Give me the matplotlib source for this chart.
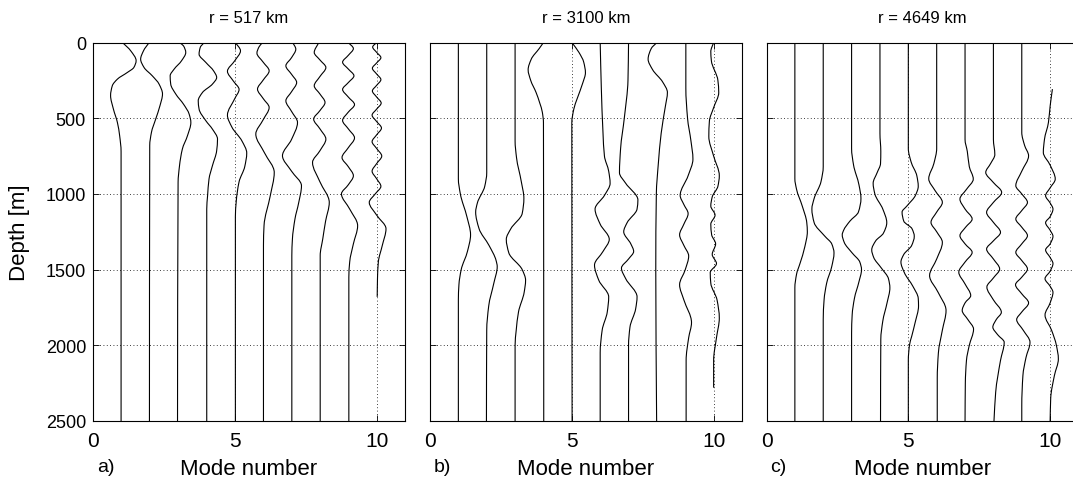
import matplotlib
matplotlib.use('Agg')
import matplotlib.pyplot as plt
from matplotlib.path import Path
from matplotlib.patches import PathPatch

plt.rcParams['font.family'] = ['Liberation Sans', 'DejaVu Sans']

titles = ['r = 517 km', 'r = 3100 km', 'r = 4649 km']
panel_tags = ['a)', 'b)', 'c)']
depth_ticks = [0, 500, 1000, 1500, 2000, 2500]
mode_ticks = [0, 5, 10]

# each curve: (depth [m], mode number + mode amplitude)
# --- panel a, r = 517 km ---
a1 = [(0, 1.04), (55, 1.33), (120, 1.52), (165, 1.44), (198, 1.21), (242, 0.86), (286, 0.68), (350, 0.62),
      (440, 0.72), (528, 0.86), (616, 0.94), (720, 0.99), (2500, 0.99)]
a2 = [(0, 1.98), (55, 1.78), (110, 1.68), (165, 1.80), (220, 2.09), (275, 2.33), (340, 2.45), (418, 2.36),
      (506, 2.21), (594, 2.06), (680, 2.0), (2500, 1.99)]
a3 = [(0, 3.04), (22, 3.19), (66, 3.27), (121, 3.12), (176, 2.86), (220, 2.72), (275, 2.74), (341, 2.92),
      (407, 3.19), (473, 3.39), (528, 3.45), (616, 3.33), (704, 3.15), (814, 3.05), (924, 3.0), (2500, 2.98)]
a4 = [(0, 3.92), (33, 3.78), (77, 3.74), (132, 3.98), (187, 4.25), (231, 4.36), (275, 4.21), (330, 3.86),
      (385, 3.71), (440, 3.74), (517, 3.98), (572, 4.21), (638, 4.39), (715, 4.36), (814, 4.21), (902, 4.09),
      (1012, 4.04), (1100, 4.01), (2500, 4.01)]
a5 = [(0, 5.02), (55, 5.2), (120, 5.0), (190, 4.74), (255, 4.95), (310, 5.15), (370, 5.0), (480, 4.74),
      (560, 4.9), (650, 5.25), (730, 5.42), (820, 5.35), (920, 5.15), (1050, 5.05), (1150, 5.02), (2500, 5.02)]
a6 = [(0, 5.98), (30, 5.85), (70, 5.78), (130, 6.0), (187, 6.21), (248, 6.0), (308, 5.8), (370, 6.0),
      (429, 6.21), (510, 6.0), (605, 5.74), (730, 6.05), (858, 6.39), (1012, 6.25), (1210, 6.03), (1340, 6.01),
      (2500, 6.01)]
a7 = [(0, 7.04), (44, 7.15), (100, 7.0), (154, 6.8), (210, 7.0), (264, 7.18), (325, 7.0), (385, 6.8),
      (455, 7.0), (528, 7.21), (640, 7.0), (748, 6.68), (850, 7.0), (946, 7.35), (1060, 7.25), (1166, 7.12),
      (1300, 7.03), (1408, 7.01), (2500, 7.01)]
a8 = [(0, 7.96), (66, 7.80), (115, 8.0), (165, 8.21), (225, 8.0), (286, 7.80), (340, 8.0), (396, 8.18),
      (450, 8.0), (506, 7.78), (570, 8.0), (638, 8.21), (715, 8.0), (792, 7.74), (920, 8.0), (1056, 8.33),
      (1180, 8.2), (1298, 8.1), (1408, 8.01), (2500, 8.01)]
a9 = [(0, 9.0), (40, 9.18), (85, 9.0), (130, 8.8), (175, 9.0), (220, 9.2), (265, 9.0), (310, 8.8), (360, 9.0),
      (410, 9.22), (460, 9.0), (515, 8.8), (570, 9.0), (630, 9.22), (695, 9.0), (760, 8.78), (820, 9.0),
      (880, 9.18), (940, 9.0), (1000, 8.76), (1100, 9.05), (1210, 9.33), (1330, 9.18), (1450, 9.05),
      (1550, 9.02), (2500, 9.02)]
a10 = [(0, 10.0), (30, 9.86), (65, 10.0), (100, 10.15), (135, 10.0), (170, 9.85), (208, 10.0), (245, 10.15),
       (283, 10.0), (320, 9.85), (360, 10.0), (400, 10.16), (440, 10.0), (480, 9.84), (522, 10.0), (565, 10.17),
       (610, 10.0), (655, 9.84), (700, 10.0), (750, 10.18), (800, 10.0), (850, 9.84), (900, 10.0), (950, 10.15),
       (1000, 9.95), (1056, 9.74), (1140, 10.0), (1230, 10.33), (1340, 10.2), (1450, 10.06), (1560, 10.03),
       (1680, 10.02)]

# --- panel b, r = 3100 km ---
b1 = [(0, 1.0), (900, 1.0), (1000, 1.07), (1150, 1.30), (1270, 1.43), (1380, 1.32), (1500, 1.1), (1600, 1.02),
      (1700, 1.0), (2500, 1.0)]
b2 = [(0, 2.0), (860, 2.0), (950, 1.93), (1060, 1.67), (1120, 1.61), (1230, 1.73), (1340, 2.08), (1440, 2.33),
      (1480, 2.37), (1590, 2.25), (1740, 2.07), (1900, 2.0), (2500, 1.99)]
b3 = [(0, 3.0), (650, 3.0), (760, 3.05), (920, 3.22), (1030, 3.31), (1130, 3.25), (1230, 2.85), (1300, 2.69),
      (1390, 2.78), (1500, 3.25), (1570, 3.37), (1650, 3.32), (1780, 3.12), (1900, 3.04), (2000, 3.0), (2500, 3.0)]
b4 = [(0, 4.0), (40, 3.85), (110, 3.57), (180, 3.46), (250, 3.55), (330, 3.74), (400, 3.87), (460, 3.96),
      (530, 4.0), (2500, 4.01)]
b5 = [(0, 5.0), (65, 5.25), (130, 5.42), (200, 5.48), (265, 5.39), (370, 5.19), (440, 5.07), (530, 5.0),
      (2500, 5.01)]
b6 = [(0, 6.0), (300, 6.04), (600, 6.1), (750, 6.15), (850, 6.3), (930, 6.35), (1010, 6.15), (1100, 5.82),
      (1200, 6.0), (1300, 6.32), (1380, 6.1), (1470, 5.8), (1570, 5.95), (1680, 6.3), (1780, 6.25), (1900, 6.07),
      (2050, 6.0), (2500, 6.0)]
b7 = [(0, 7.0), (250, 6.98), (500, 6.85), (700, 6.72), (860, 6.68), (930, 6.9), (1040, 7.33), (1100, 7.3),
      (1190, 6.95), (1250, 6.83), (1330, 7.08), (1380, 7.18), (1430, 7.0), (1490, 6.75), (1560, 6.9), (1680, 7.3),
      (1760, 7.25), (1880, 7.05), (2000, 7.0), (2500, 7.0)]
b8 = [(0, 8.0), (40, 7.8), (110, 7.69), (180, 7.85), (260, 8.2), (330, 8.37), (420, 8.3), (600, 8.15),
      (800, 8.05), (1000, 7.98), (1500, 7.96), (2500, 7.99)]
b9 = [(0, 9.02), (300, 9.02), (500, 9.08), (650, 9.2), (770, 9.27), (880, 9.1), (1010, 8.82), (1070, 8.95),
      (1130, 9.1), (1200, 8.95), (1270, 8.8), (1340, 8.95), (1410, 9.12), (1500, 9.0), (1600, 8.8), (1700, 8.95),
      (1850, 9.22), (1950, 9.12), (2100, 9.03), (2500, 9.03)]
b10 = [(0, 10.0), (60, 9.9), (120, 9.92), (250, 10.15), (330, 10.18), (430, 10.0), (520, 9.85), (620, 9.83),
       (750, 10.0), (880, 10.2), (950, 10.15), (1020, 9.95), (1080, 9.9), (1140, 10.05), (1200, 9.9), (1270, 9.93),
       (1330, 10.07), (1400, 9.95), (1460, 10.1), (1520, 9.88), (1590, 9.9), (1700, 10.12), (1820, 10.2),
       (1950, 10.1), (2100, 10.0), (2280, 10.0)]

# --- panel c, r = 4649 km ---
c1 = [(0, 1.0), (900, 1.0), (970, 1.06), (1080, 1.26), (1190, 1.42), (1250, 1.44), (1350, 1.35), (1460, 1.18),
      (1530, 1.06), (1620, 1.0), (2500, 1.0)]
c2 = [(0, 2.0), (820, 2.0), (920, 1.92), (1030, 1.68), (1100, 1.6), (1190, 1.68), (1280, 2.06), (1330, 2.3),
      (1390, 2.38), (1480, 2.3), (1590, 2.12), (1700, 2.03), (1830, 2.0), (2500, 2.0)]
c3 = [(0, 3.0), (700, 3.0), (810, 3.07), (940, 3.26), (1030, 3.33), (1120, 3.24), (1180, 2.94), (1240, 2.72),
      (1270, 2.67), (1320, 2.74), (1390, 3.02), (1450, 3.29), (1500, 3.35), (1580, 3.26), (1690, 3.1),
      (1800, 3.02), (1920, 3.0), (2500, 3.0)]
c4 = [(0, 4.0), (600, 4.0), (720, 4.03), (800, 4.02), (860, 3.9), (930, 3.76), (1000, 3.82), (1100, 4.1),
      (1190, 4.24), (1260, 4.12), (1310, 3.85), (1370, 3.71), (1420, 3.78), (1490, 4.05), (1560, 4.3),
      (1620, 4.35), (1720, 4.25), (1840, 4.1), (1960, 4.03), (2500, 4.02)]
c5 = [(0, 5.0), (700, 5.0), (790, 5.1), (880, 5.3), (950, 5.35), (1010, 5.25), (1080, 4.95), (1120, 4.78),
      (1180, 4.84), (1230, 5.13), (1280, 5.21), (1340, 5.12), (1400, 4.84), (1450, 4.74), (1520, 4.86),
      (1610, 5.16), (1690, 5.35), (1740, 5.36), (1850, 5.24), (1940, 5.12), (2000, 5.04), (2100, 5.0), (2500, 5.0)]
c6 = [(0, 6.0), (700, 6.0), (800, 5.9), (900, 5.72), (980, 5.95), (1056, 6.2), (1120, 6.0), (1188, 5.8),
      (1250, 6.0), (1320, 6.2), (1430, 6.0), (1540, 5.75), (1650, 6.05), (1770, 6.33), (1900, 6.2), (2050, 6.06),
      (2220, 6.02), (2500, 6.02)]
c7 = [(0, 7.0), (640, 7.0), (720, 7.08), (820, 7.15), (902, 7.29), (970, 7.05), (1034, 6.82), (1100, 7.0),
      (1166, 7.25), (1220, 7.02), (1276, 6.82), (1330, 7.0), (1386, 7.25), (1450, 7.0), (1517, 6.78), (1595, 7.0),
      (1672, 7.2), (1720, 7.0), (1770, 6.9), (1830, 7.1), (1893, 7.3), (2000, 7.15), (2100, 7.05), (2250, 7.01),
      (2500, 7.0)]
c8 = [(0, 8.0), (640, 8.0), (740, 8.05), (800, 7.9), (858, 7.73), (925, 8.0), (990, 8.29), (1056, 8.0),
      (1122, 7.76), (1188, 8.0), (1254, 8.25), (1310, 8.0), (1364, 7.76), (1430, 8.0), (1496, 8.22), (1555, 8.0),
      (1615, 7.77), (1700, 8.0), (1782, 8.28), (1830, 8.1), (1880, 7.98), (1930, 8.15), (1980, 8.38),
      (2100, 8.25), (2310, 8.08), (2500, 8.02)]
c9 = [(0, 9.0), (594, 9.0), (680, 9.1), (748, 9.24), (850, 9.0), (946, 8.79), (1000, 9.0), (1056, 9.2),
      (1110, 9.0), (1166, 8.79), (1220, 9.0), (1276, 9.2), (1330, 9.0), (1386, 8.79), (1440, 9.0), (1496, 9.2),
      (1550, 9.0), (1600, 8.78), (1660, 9.0), (1720, 9.24), (1780, 9.0), (1830, 8.82), (1900, 9.05), (1980, 9.29),
      (2080, 9.15), (2200, 9.04), (2400, 9.0), (2500, 9.0)]
c10 = [(308, 10.08), (420, 10.0), (528, 9.94), (640, 9.8), (726, 9.76), (810, 10.0), (902, 10.18), (960, 10.0),
       (1012, 9.84), (1060, 10.0), (1100, 10.1), (1150, 10.0), (1190, 9.84), (1240, 10.0), (1280, 10.1),
       (1330, 10.0), (1370, 9.84), (1420, 10.0), (1460, 10.1), (1510, 10.0), (1560, 9.82), (1610, 10.0),
       (1650, 10.1), (1720, 10.0), (1800, 9.82), (1900, 10.05), (2000, 10.22), (2090, 10.29), (2200, 10.15),
       (2350, 10.02), (2500, 10.0)]

panels = [
    [a1, a2, a3, a4, a5, a6, a7, a8, a9, a10],
    [b1, b2, b3, b4, b5, b6, b7, b8, b9, b10],
    [c1, c2, c3, c4, c5, c6, c7, c8, c9, c10],
]


def smooth_path(curve):
    """Cubic bezier path through the read points (shape preserving tangents)."""
    d = [p[0] for p in curve]
    x = [p[1] for p in curve]
    n = len(d)
    h = [d[i + 1] - d[i] for i in range(n - 1)]
    s = [(x[i + 1] - x[i]) / h[i] for i in range(n - 1)]
    m = [0.0] * n
    m[0], m[-1] = s[0], s[-1]
    for i in range(1, n - 1):
        if s[i - 1] * s[i] > 0:
            w1 = 2 * h[i] + h[i - 1]
            w2 = h[i] + 2 * h[i - 1]
            m[i] = (w1 + w2) / (w1 / s[i - 1] + w2 / s[i])
    verts = [(x[0], d[0])]
    codes = [Path.MOVETO]
    for i in range(n - 1):
        verts += [(x[i] + m[i] * h[i] / 3, d[i] + h[i] / 3),
                  (x[i + 1] - m[i + 1] * h[i] / 3, d[i + 1] - h[i] / 3),
                  (x[i + 1], d[i + 1])]
        codes += [Path.CURVE4] * 3
    return Path(verts, codes)


W, H = 1073, 485
fig = plt.figure(figsize=(W / 100, H / 100), dpi=100)
lefts = [93, 430, 766.5]

for i, curves in enumerate(panels):
    ax = fig.add_axes([lefts[i] / W, 1 - 422 / H, 312 / W, 378.5 / H])
    for curve in curves:
        ax.add_patch(PathPatch(smooth_path(curve), fill=False, edgecolor='black', lw=0.8))

    ax.set_xlim(0, 11)
    ax.set_ylim(2500, 0)
    ax.set_xticks(mode_ticks)
    ax.set_yticks(depth_ticks)
    ax.grid(True, color='black', linestyle=(0, (1, 3)), lw=0.6)
    ax.tick_params(direction='in', top=True, right=True, length=4, width=0.6)
    ax.tick_params(axis='x', labelsize=15, pad=7)
    ax.tick_params(axis='y', labelsize=13, pad=5)
    for sp in ax.spines.values():
        sp.set_linewidth(0.8)

    if i == 0:
        ax.set_ylabel('Depth [m]', fontsize=16)
        ax.yaxis.set_label_coords(-0.203, 0.5)
    else:
        ax.set_yticklabels([])
    ax.set_xlabel('Mode number', fontsize=16, labelpad=6)
    ax.set_title(titles[i], fontsize=12, pad=15)
    ax.text(0.013, -0.119, panel_tags[i], transform=ax.transAxes, fontsize=14,
            ha='left', va='center')

fig.savefig('out.png', dpi=100)
